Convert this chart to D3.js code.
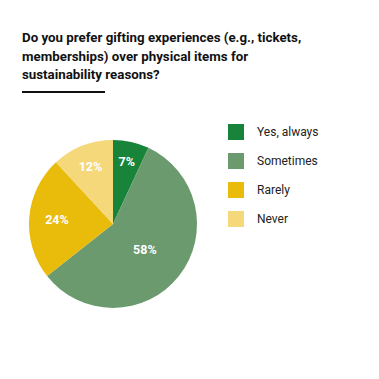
<!DOCTYPE html>
<html>
<head>
<meta charset="utf-8">
<script src="https://cdn.jsdelivr.net/npm/d3@7"></script>
<style>
  html, body { margin: 0; padding: 0; background: #fff; }
  svg { display: block; font-family: Roboto, "Noto Sans", sans-serif; }
</style>
</head>
<body>
<div id="chart"></div>
<script>
  // Survey answers, clockwise from 12 o'clock
  var categories = ['Yes, always', 'Sometimes', 'Rarely', 'Never'];
  var values = [7, 58, 24, 12];
  var colors = ['#17843a', '#6b9a6f', '#e9bc0c', '#f5d87a'];
  var titleLines = [
    'Do you prefer gifting experiences (e.g., tickets,',
    'memberships) over physical items for',
    'sustainability reasons?'
  ];

  var W = 379, H = 379;
  var svg = d3.select('#chart').append('svg')
    .attr('width', W)
    .attr('height', H);

  // Title
  var title = svg.append('text')
    .attr('x', 22)
    .attr('y', 42)
    .attr('fill', '#111')
    .attr('font-size', '13.3px')
    .attr('font-weight', 'bold');
  titleLines.forEach(function (line, i) {
    title.append('tspan')
      .attr('x', 22)
      .attr('dy', i === 0 ? 0 : 18.5)
      .text(line);
  });

  svg.append('line')
    .attr('x1', 22).attr('x2', 105)
    .attr('y1', 92).attr('y2', 92)
    .attr('stroke', '#111')
    .attr('stroke-width', 2);

  // Pie
  var cx = 113, cy = 224, r = 84;
  var total = d3.sum(values);
  var pie = d3.pie().sort(null).value(function (d) { return d; });
  var arc = d3.arc().innerRadius(0).outerRadius(r);
  var color = d3.scaleOrdinal().domain(categories).range(colors);

  var g = svg.append('g').attr('transform', 'translate(' + cx + ',' + cy + ')');
  var arcs = pie(values);

  g.selectAll('path')
    .data(arcs)
    .join('path')
    .attr('d', arc)
    .attr('fill', function (d, i) { return color(categories[i]); });

  // Labels: smaller slices sit further out
  g.selectAll('text.pct')
    .data(arcs)
    .join('text')
    .attr('class', 'pct')
    .attr('transform', function (d) {
      var lr = r * (0.8 - 0.55 * d.value / total);
      var c = d3.arc().innerRadius(lr).outerRadius(lr).centroid(d);
      return 'translate(' + c[0] + ',' + c[1] + ')';
    })
    .attr('text-anchor', 'middle')
    .attr('dy', '0.36em')
    .attr('fill', '#fff')
    .attr('font-size', '12.5px')
    .attr('font-weight', 'bold')
    .text(function (d) { return d.value + '%'; });

  // Legend
  var legend = svg.append('g').attr('transform', 'translate(228,124)');
  var item = legend.selectAll('g')
    .data(categories)
    .join('g')
    .attr('transform', function (d, i) { return 'translate(0,' + (i * 29) + ')'; });

  item.append('rect')
    .attr('width', 16)
    .attr('height', 16)
    .attr('fill', function (d) { return color(d); });

  item.append('text')
    .attr('x', 29)
    .attr('y', 8)
    .attr('dy', '0.35em')
    .attr('fill', '#222')
    .attr('font-size', '12px')
    .text(function (d) { return d; });
</script>
</body>
</html>
